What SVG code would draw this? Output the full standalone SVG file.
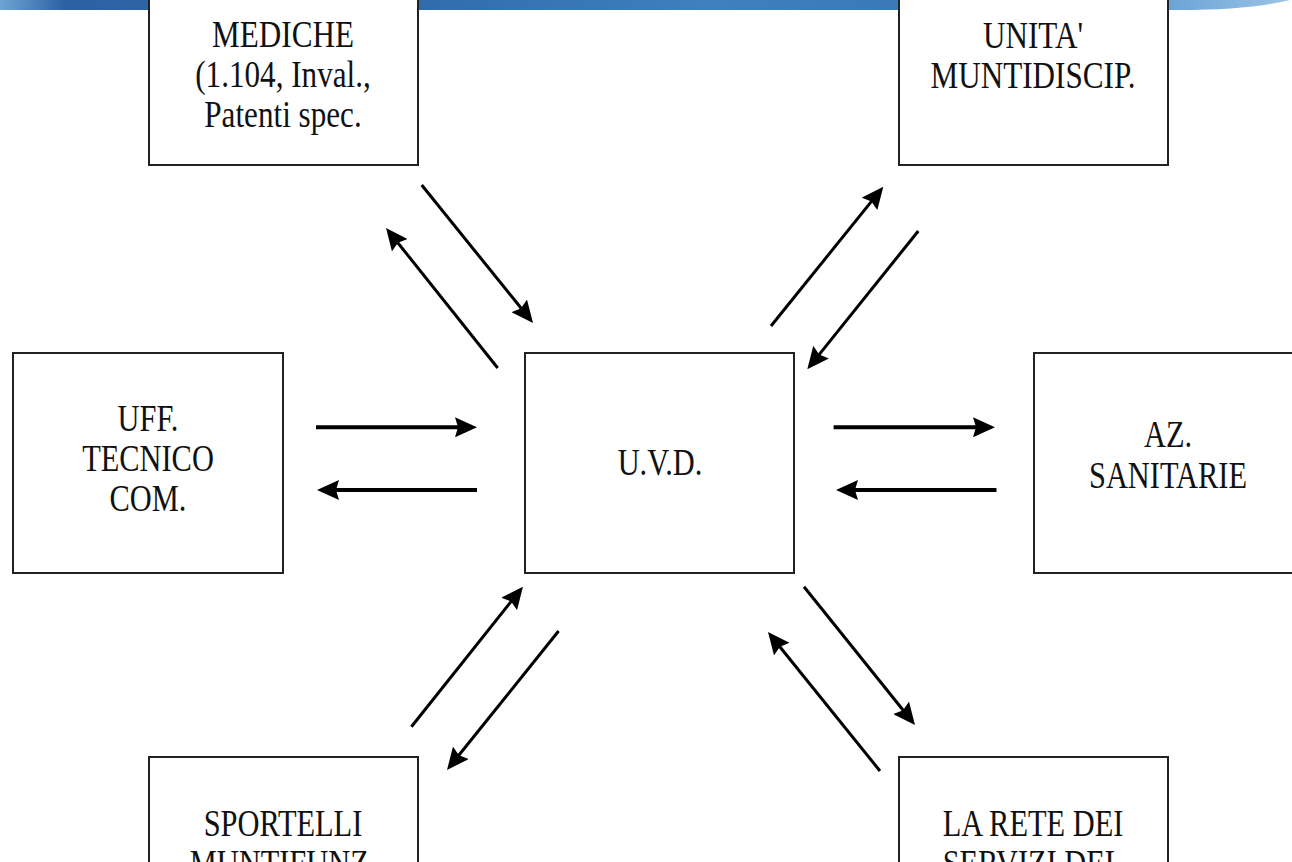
<svg xmlns="http://www.w3.org/2000/svg" width="1292" height="862" viewBox="0 0 1292 862">
<style>
.box{fill:#fff;stroke:#222;stroke-width:2}
.t{font-family:"Liberation Serif","Times New Roman",serif;font-size:38px;fill:#111;text-anchor:middle}
.h{stroke:#000;stroke-width:4;fill:none}
.d{stroke:#000;stroke-width:3;fill:none}
</style>
<defs>
<linearGradient id="band" x1="0" y1="0" x2="1" y2="0">
<stop offset="0" stop-color="#6fa3d4"/>
<stop offset="0.05" stop-color="#2c62a5"/>
<stop offset="0.3" stop-color="#2f6aa9"/>
<stop offset="0.55" stop-color="#3f80be"/>
<stop offset="0.72" stop-color="#3a78b6"/>
<stop offset="0.82" stop-color="#2a5e9f"/>
<stop offset="0.88" stop-color="#5e9bd1"/>
<stop offset="1" stop-color="#9cc4e6"/>
</linearGradient>
<marker id="ah" viewBox="0 0 22 20" markerWidth="22" markerHeight="20" refX="7" refY="10" orient="auto" markerUnits="userSpaceOnUse">
<path d="M0,0 L22,10 L0,20 L3,10 Z" fill="#000"/>
</marker>
</defs>
<rect width="1292" height="862" fill="#fff"/>
<path d="M0,0 L1290,0 Q1250,10 1180,10 L0,10 Z" fill="url(#band)"/>

<g id="mediche">
<rect class="box" x="149" y="-56" width="269" height="221"/>
<g transform="translate(283,0) scale(0.82,1)">
<text class="t" x="0" y="47">MEDICHE</text>
<text class="t" x="0" y="87">(1.104, Inval.,</text>
<text class="t" x="0" y="127">Patenti spec.</text>
</g>
</g>

<g id="unita">
<rect class="box" x="899" y="-56" width="269" height="221"/>
<g transform="translate(1033,0) scale(0.82,1)">
<text class="t" x="0" y="48">UNITA'</text>
<text class="t" x="0" y="88">MUNTIDISCIP.</text>
</g>
</g>

<g id="uff">
<rect class="box" x="13" y="353" width="270" height="220"/>
<g transform="translate(148,0) scale(0.8,1)">
<text class="t" x="0" y="431">UFF.</text>
<text class="t" x="0" y="471">TECNICO</text>
<text class="t" x="0" y="511">COM.</text>
</g>
</g>

<g id="uvd">
<rect class="box" x="525" y="353" width="269" height="220"/>
<g transform="translate(660,0) scale(0.8,1)">
<text class="t" x="0" y="475">U.V.D.</text>
</g>
</g>

<g id="az">
<rect class="box" x="1034" y="353" width="270" height="220"/>
<g transform="translate(1168,0) scale(0.8,1)">
<text class="t" x="0" y="447">AZ.</text>
<text class="t" x="0" y="488">SANITARIE</text>
</g>
</g>

<g id="sportelli">
<rect class="box" x="149" y="757" width="269" height="221"/>
<g transform="translate(283,0) scale(0.8,1)">
<text class="t" x="0" y="836">SPORTELLI</text>
<text class="t" x="0" y="876">MUNTIFUNZ.</text>
</g>
</g>

<g id="rete">
<rect class="box" x="899" y="757" width="269" height="221"/>
<g transform="translate(1033,0) scale(0.8,1)">
<text class="t" x="0" y="836">LA RETE DEI</text>
<text class="t" x="0" y="876">SERVIZI DEL</text>
</g>
</g>

<g id="connectors">
<line class="h" x1="316" y1="427.3" x2="462" y2="427.3" marker-end="url(#ah)"/>
<line class="h" x1="477" y1="490" x2="332" y2="490" marker-end="url(#ah)"/>
<line class="h" x1="833.6" y1="427.3" x2="980" y2="427.3" marker-end="url(#ah)"/>
<line class="h" x1="996.5" y1="490" x2="851" y2="490" marker-end="url(#ah)"/>
<line class="d" x1="421.7" y1="185" x2="523.6" y2="311.3" marker-end="url(#ah)"/>
<line class="d" x1="497.7" y1="368" x2="395.4" y2="239.7" marker-end="url(#ah)"/>
<line class="d" x1="771" y1="326" x2="873.9" y2="198.4" marker-end="url(#ah)"/>
<line class="d" x1="918.3" y1="231" x2="816.7" y2="357.6" marker-end="url(#ah)"/>
<line class="d" x1="411.4" y1="726.7" x2="513.6" y2="598.4" marker-end="url(#ah)"/>
<line class="d" x1="558.6" y1="631" x2="456.4" y2="758.3" marker-end="url(#ah)"/>
<line class="d" x1="804" y1="586.7" x2="905.6" y2="713.3" marker-end="url(#ah)"/>
<line class="d" x1="880" y1="771" x2="777.4" y2="643.7" marker-end="url(#ah)"/>
</g>
</svg>
